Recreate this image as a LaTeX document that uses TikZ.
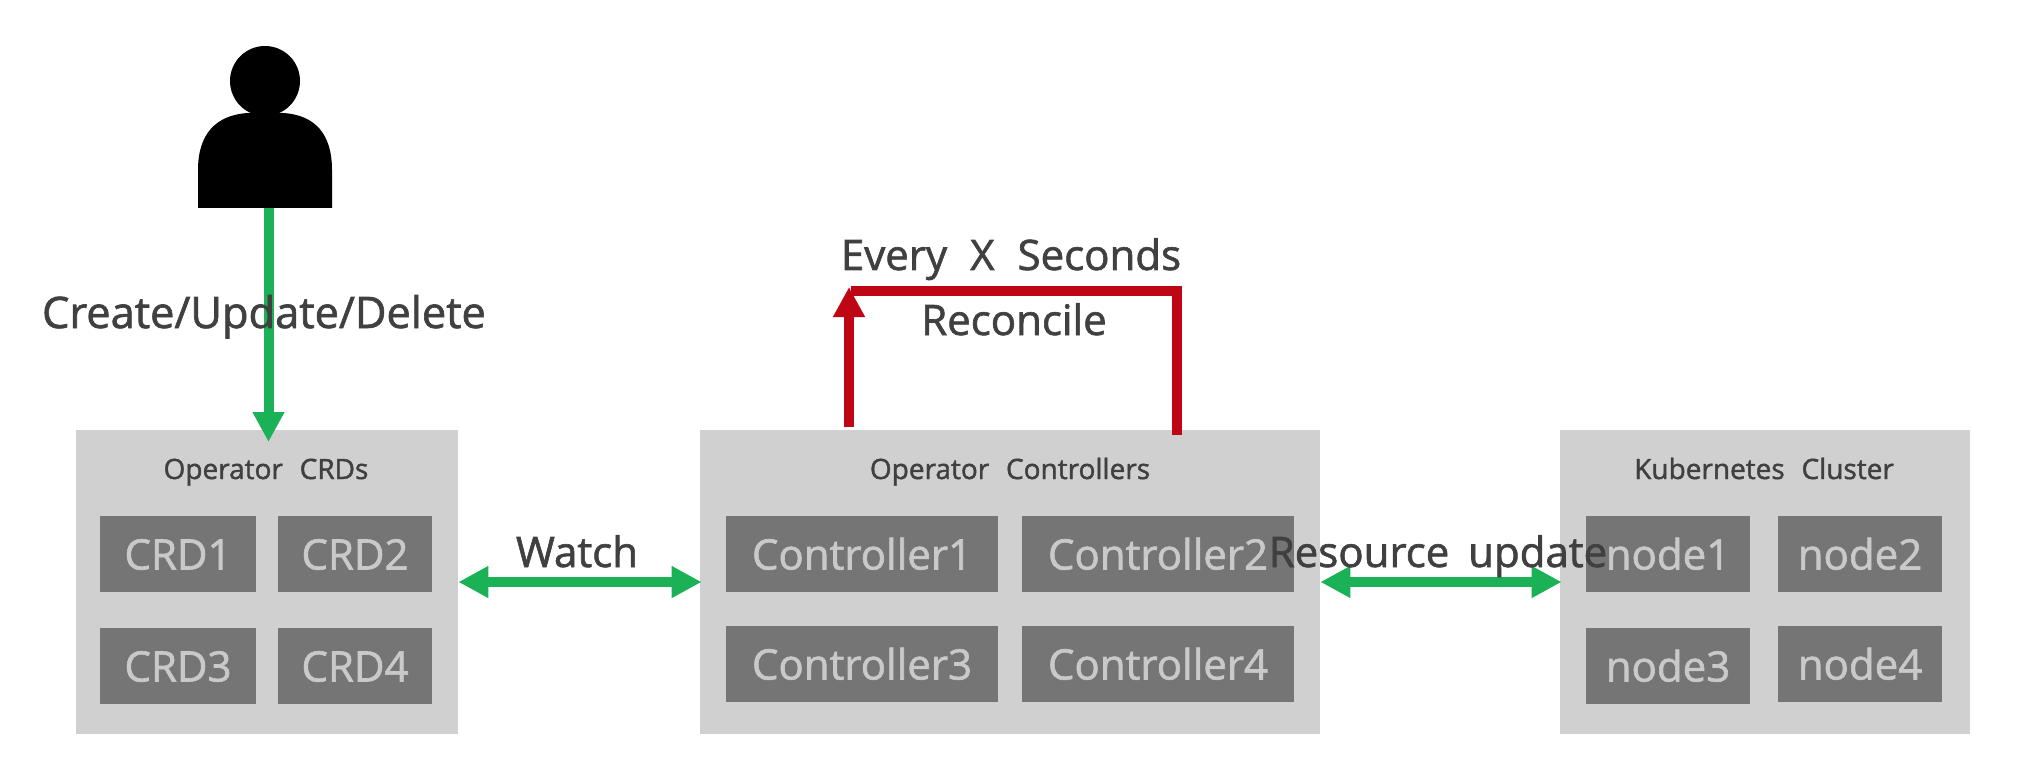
\documentclass[tikz,border=0pt]{standalone}
\usepackage{fontspec}
\setmainfont[FakeBold=1.5]{Open Sans}
\usetikzlibrary{arrows.meta}
\definecolor{boxgray}{HTML}{D0D0D0}
\definecolor{itemgray}{HTML}{757575}
\definecolor{itemtext}{HTML}{C9C9C9}
\definecolor{labeltext}{HTML}{404040}
\definecolor{flowgreen}{HTML}{1BB157}
\definecolor{loopred}{HTML}{BF0615}

\begin{document}
\begin{tikzpicture}[x=0.5pt,y=-0.5pt,
		group box/.style={fill=boxgray,inner sep=0pt,minimum height=152pt},
		item box/.style={fill=itemgray,text=itemtext,inner sep=0pt,minimum height=38pt,
			text height=15.5pt,text depth=0pt,font=\fontsize{21}{24}\selectfont},
		group title/.style={text=labeltext,anchor=base,inner sep=0pt,font={\fontsize{14}{16}\selectfont\spaceskip=.6em\relax}},
		flow label/.style={text=labeltext,anchor=base,inner sep=0pt,font={\fontsize{21}{24}\selectfont\spaceskip=.55em\relax}},
		flow/.style={draw=flowgreen,line width=5pt,arrows={-Triangle[length=15pt,width=15pt]}},
		both flow/.style={draw=flowgreen,line width=5pt,shorten >=-1pt,arrows={Triangle[length=15pt,width=15pt]-Triangle[length=15pt,width=15pt]}},
		loop/.style={draw=loopred,line width=5pt}]
	\useasboundingbox (0,0) rectangle (2032,770);

	\node[group box,minimum width=191pt] (crds) at (267,582) {};
	\node[group box,minimum width=310pt] (controllers) at (1010,582) {};
	\node[group box,minimum width=205pt] (cluster) at (1765,582) {};

	\node[item box,minimum width=78pt,node distance=88.5pt] (crd1) at (178,554) {CRD1};
	\node[item box,minimum width=77pt,node distance=88.5pt] (crd2) [right of = crd1] {CRD2};
	\node[item box,minimum width=78pt,node distance=56pt] (crd3) [below of = crd1] {CRD3};
	\node[item box,minimum width=77pt,node distance=56pt] (crd4) [below of = crd2] {CRD4};

	\node[item box,minimum width=136pt,node distance=148pt] (ctl1) at (862,554) {Controller1};
	\node[item box,minimum width=136pt,node distance=148pt] (ctl2) [right of = ctl1] {Controller2};
	\node[item box,minimum width=136pt,node distance=55pt] (ctl3) [below of = ctl1] {Controller3};
	\node[item box,minimum width=136pt,node distance=55pt] (ctl4) [below of = ctl2] {Controller4};

	\node[item box,minimum width=82pt,node distance=96pt] (node1) at (1668,554) {node1};
	\node[item box,minimum width=82pt,node distance=96pt] (node2) [right of = node1] {node2};
	\node[item box,minimum width=82pt,node distance=56pt] (node3) [below of = node1] {node3};
	\node[item box,minimum width=82pt,node distance=55pt] (node4) [below of = node2] {node4};

	\fill (265,81) circle (35);
	\fill (198,208) -- (198,170) .. controls (198,135) and (215,115) .. (248,113) -- (283,113)
		.. controls (316,115) and (332,135) .. (332,170) -- (332,208) -- cycle;

	\coordinate (user) at (268.5,208);
	\coordinate (crdstop) at (268.5,442);
	\coordinate (loopstart) at (1177,435);
	\coordinate (loopcorner) at (1177,291);
	\coordinate (loopend) at (851,291);
	\coordinate (tickfrom) at (849,427);
	\coordinate (tickto) at (849,287);

	\draw[flow] (user) -- (crdstop);
	\draw[both flow] (crds) -- (controllers);
	\draw[both flow] (controllers) -- (cluster);
	\draw[loop] (loopstart) -- (loopcorner) -- (loopend);
	\draw[loop,arrows={-Triangle[length=15pt,width=15pt]}] (tickfrom) -- (tickto);

	\node[group title] (crdstitle) at (266,479) {Operator CRDs};
	\node[group title] (ctltitle) at (1010,479) {Operator Controllers};
	\node[group title] (clustertitle) at (1764,479) {Kubernetes Cluster};

	\node[flow label,font=\fontsize{21.7}{24}\selectfont] (crud) at (264,328) {Create/Update/Delete};
	\node[flow label] (every) at (1011,270) {Every X Seconds};
	\node[flow label] (reconcile) at (1014,335) {Reconcile};
	\node[flow label] (watch) at (577,567) {Watch};
	\node[flow label,font={\fontsize{21}{24}\selectfont\spaceskip=.45em\relax}] (update) at (1438,567) {Resource update};
\end{tikzpicture}
\end{document}
